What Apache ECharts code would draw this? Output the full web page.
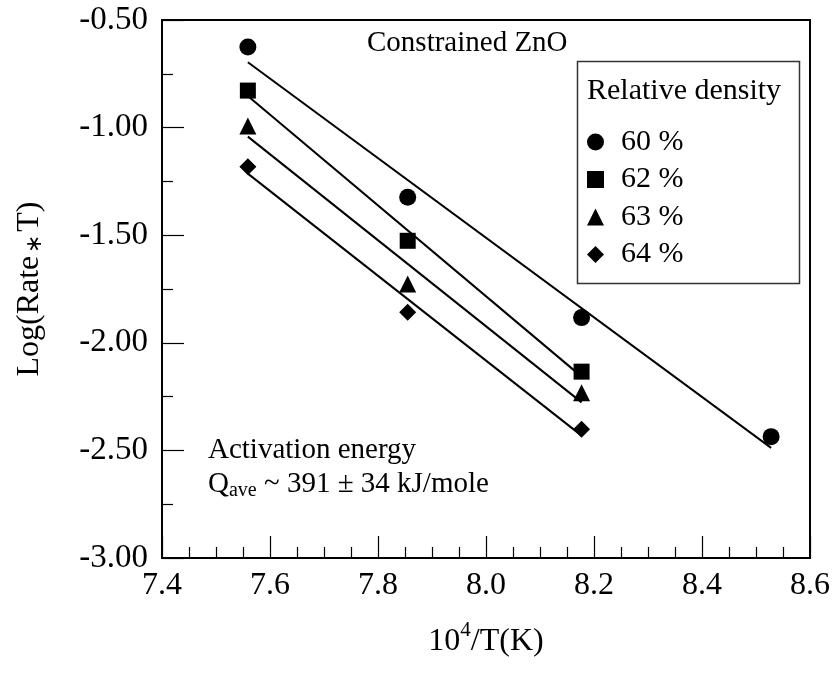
<!DOCTYPE html>
<html>
<head>
<meta charset="utf-8">
<script src="https://cdn.jsdelivr.net/npm/echarts@6/dist/echarts.min.js"></script>
<style>
html,body{margin:0;padding:0;background:#fff;}
#chart{width:837px;height:675px;}
</style>
</head>
<body>
<div id="chart"></div>
<script>
// ---- data ----
const seriesNames = ['60 %', '62 %', '63 %', '64 %'];
const seriesSymbols = ['circle', 'rect', 'triangle', 'diamond'];
const x60 = [7.559, 7.855, 8.177, 8.528];
const y60 = [-0.625, -1.324, -1.883, -2.436];
const x62 = [7.559, 7.855, 8.177];
const y62 = [-0.828, -1.526, -2.134];
const x63 = [7.559, 7.855, 8.177];
const y63 = [-0.993, -1.727, -2.232];
const x64 = [7.559, 7.855, 8.177];
const y64 = [-1.182, -1.858, -2.402];
const xTicks = [7.4, 7.6, 7.8, 8.0, 8.2, 8.4, 8.6];
const yTicks = [-3.0, -2.5, -2.0, -1.5, -1.0, -0.5];

const xs = [x60, x62, x63, x64];
const ys = [y60, y62, y63, y64];

function fit(x, y) {
  const n = x.length;
  const mx = x.reduce((a, b) => a + b, 0) / n;
  const my = y.reduce((a, b) => a + b, 0) / n;
  let sxy = 0, sxx = 0;
  for (let i = 0; i < n; i++) { sxy += (x[i] - mx) * (y[i] - my); sxx += (x[i] - mx) ** 2; }
  const b = sxy / sxx;
  const a = my - b * mx;
  const x0 = Math.min(...x), x1 = Math.max(...x);
  return [[x0, a + b * x0], [x1, a + b * x1]];
}

const FONT = 'Liberation Serif';
const series = [];
seriesNames.forEach((name, i) => {
  series.push({
    name: 'fit ' + name,
    type: 'line',
    data: fit(xs[i], ys[i]),
    symbol: 'none',
    lineStyle: { color: '#000', width: 2 },
    silent: true,
    z: 2
  });
});
seriesNames.forEach((name, i) => {
  series.push({
    name: name,
    type: 'scatter',
    symbol: seriesSymbols[i],
    symbolSize: seriesSymbols[i] === 'rect' ? 16 : 17,
    data: xs[i].map((v, j) => [v, ys[i][j]]),
    itemStyle: { color: '#000', opacity: 1 },
    z: 3
  });
});

const chart = echarts.init(document.getElementById('chart'));
chart.setOption({
  animation: false,
  backgroundColor: '#fff',
  grid: { left: 162, right: 27, top: 20, bottom: 117, show: true, borderColor: '#000', borderWidth: 2 },
  xAxis: {
    type: 'value', min: xTicks[0], max: xTicks[xTicks.length - 1], interval: 0.2,
    name: '{a|10}{s|4}{a|/T(K)}', nameLocation: 'middle', nameGap: 62,
    nameTextStyle: { rich: {
      a: { fontFamily: FONT, fontSize: 32, color: '#000' },
      s: { fontFamily: FONT, fontSize: 21, color: '#000', padding: [0, 0, 22, 0] }
    } },
    axisLine: { lineStyle: { color: '#000', width: 2 } },
    axisTick: { inside: true, length: 22, lineStyle: { color: '#000', width: 1.2 } },
    minorTick: { show: true, splitNumber: 4, length: 11, lineStyle: { color: '#000', width: 1.2 } },
    splitLine: { show: false },
    axisLabel: { fontFamily: FONT, fontSize: 32, color: '#000', margin: 12,
      formatter: v => v.toFixed(1) }
  },
  yAxis: {
    type: 'value', min: yTicks[0], max: yTicks[yTicks.length - 1], interval: 0.5,
    name: '{a|Log(Rate}{s|∗}{a|T)}', nameLocation: 'middle', nameGap: 116, nameRotate: 90,
    nameTextStyle: { rich: {
      a: { fontFamily: FONT, fontSize: 32, color: '#000' },
      s: { fontFamily: FONT, fontSize: 22, color: '#000', padding: [10, 3, 0, 3] }
    } },
    axisLine: { lineStyle: { color: '#000', width: 2 } },
    axisTick: { inside: true, length: 22, lineStyle: { color: '#000', width: 1.2 } },
    minorTick: { show: true, splitNumber: 2, length: 11, lineStyle: { color: '#000', width: 1.2 } },
    splitLine: { show: false },
    axisLabel: { fontFamily: FONT, fontSize: 33, color: '#000', margin: 14,
      formatter: v => v.toFixed(2) }
  },
  legend: {
    data: seriesNames,
    orient: 'vertical',
    left: 582, top: 122,
    itemWidth: 17, itemHeight: 17, itemGap: 7.5,
    textStyle: { fontFamily: FONT, fontSize: 30, color: '#000', padding: [0, 0, 0, 12] },
    itemStyle: { opacity: 1 },
    selectedMode: false
  },
  graphic: [
    { type: 'rect', shape: { x: 577.5, y: 61.5, width: 222, height: 222 },
      style: { fill: 'none', stroke: '#333', lineWidth: 1.5 }, z: 10 },
    { type: 'text', left: 587, top: 76, style: { text: 'Relative density', font: '30px "Liberation Serif"', fill: '#000' }, z: 10 },
    { type: 'text', left: 367, top: 29, style: { text: 'Constrained ZnO', font: '29px "Liberation Serif"', fill: '#000' }, z: 10 },
    { type: 'text', left: 208, top: 436, style: { text: 'Activation energy', font: '29px "Liberation Serif"', fill: '#000' }, z: 10 },
    { type: 'text', left: 208, top: 470, style: {
        text: '{a|Q}{s|ave}{a| ~ 391 ± 34 kJ/mole}',
        rich: {
          a: { fontFamily: FONT, fontSize: 29, color: '#000' },
          s: { fontFamily: FONT, fontSize: 20, color: '#000', padding: [12, 0, 0, 0] }
        } }, z: 10 }
  ],
  series: series
});
</script>
</body>
</html>
